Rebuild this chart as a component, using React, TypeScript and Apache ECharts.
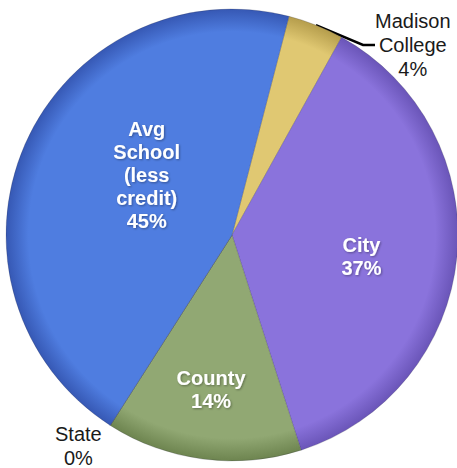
import React, { useEffect, useRef } from "react";
import * as echarts from "echarts";

const categories = ["Madison College", "City", "County", "State", "Avg School (less credit)"];
const values = [4, 37, 14, 0, 45];
const labelText = [["Madison", "College"], ["City"], ["County"], ["State"], ["Avg", "School", "(less", "credit)"]];
const colors = ["#e0c872", "#8a73dc", "#91a873", "#4f7de0", "#4f7de0"];
const edgeColors = ["#b59d4c", "#6a55b8", "#6d844f", "#3658b4", "#3658b4"];
const insideSlice = [false, true, true, false, true];

const CX = 232;
const CY = 235;
const R = 226;

function fillFor(i: number) {
  return {
    type: "radial",
    x: CX,
    y: CY,
    r: R,
    global: true,
    colorStops: [
      { offset: 0, color: colors[i] },
      { offset: 0.9, color: colors[i] },
      { offset: 1, color: edgeColors[i] },
    ],
  };
}

export default function App() {
  const ref = useRef<HTMLDivElement>(null);
  useEffect(() => {
    if (!ref.current) return;
    const chart = echarts.init(ref.current, undefined, { renderer: "svg" });
    const font = "'Liberation Sans', Arial, sans-serif";
    const shifts: Record<number, [number, number]> = {
      1: [14, 10],
      2: [-6, 39],
      3: [3, 9],
      4: [21, -14],
    };
    chart.setOption({
      animation: false,
      backgroundColor: "#ffffff",
      series: [
        {
          type: "pie",
          center: [CX, CY],
          radius: R,
          startAngle: 75.4,
          clockwise: true,
          avoidLabelOverlap: false,
          data: categories.map((name, i) => ({
            name,
            value: values[i],
            itemStyle: {
              color: fillFor(i),
              borderColor: "rgba(40,40,60,0.35)",
              borderWidth: 0.6,
            },
            label: insideSlice[i]
              ? {
                  position: "inside",
                  color: "#ffffff",
                  fontWeight: "bold",
                  fontSize: 20,
                  lineHeight: 23,
                  textShadowColor: "rgba(0,0,0,0.35)",
                  textShadowBlur: 2,
                  textShadowOffsetX: 1,
                  textShadowOffsetY: 1,
                }
              : {
                  position: "outside",
                  color: "#1a1a1a",
                  fontSize: 20,
                  lineHeight: 24,
                  distanceToLabelLine: 4,
                },
            labelLine:
              i === 0
                ? { show: true, length: 16, length2: 12, lineStyle: { color: "#000", width: 2.5 } }
                : { show: false, length: 14, length2: 0 },
          })),
          label: {
            fontFamily: font,
            formatter: (p: any) =>
              labelText[p.dataIndex]
                .concat([`${p.value}%`])
                .map((s) => `{c|${s}}`)
                .join("\n"),
            rich: {
              c: { align: "center", fontFamily: font },
            },
          },
          labelLayout: (p: any) => {
            if (p.dataIndex === 0) {
              return { x: 375, y: 45, align: "left", verticalAlign: "middle" };
            }
            const s = shifts[p.dataIndex];
            return s ? { dx: s[0], dy: s[1] } : {};
          },
        },
      ],
    });
    return () => chart.dispose();
  }, []);
  return (
    <div
      ref={ref}
      style={{ position: "fixed", left: 0, top: 0, width: 457, height: 468 }}
    />
  );
}
